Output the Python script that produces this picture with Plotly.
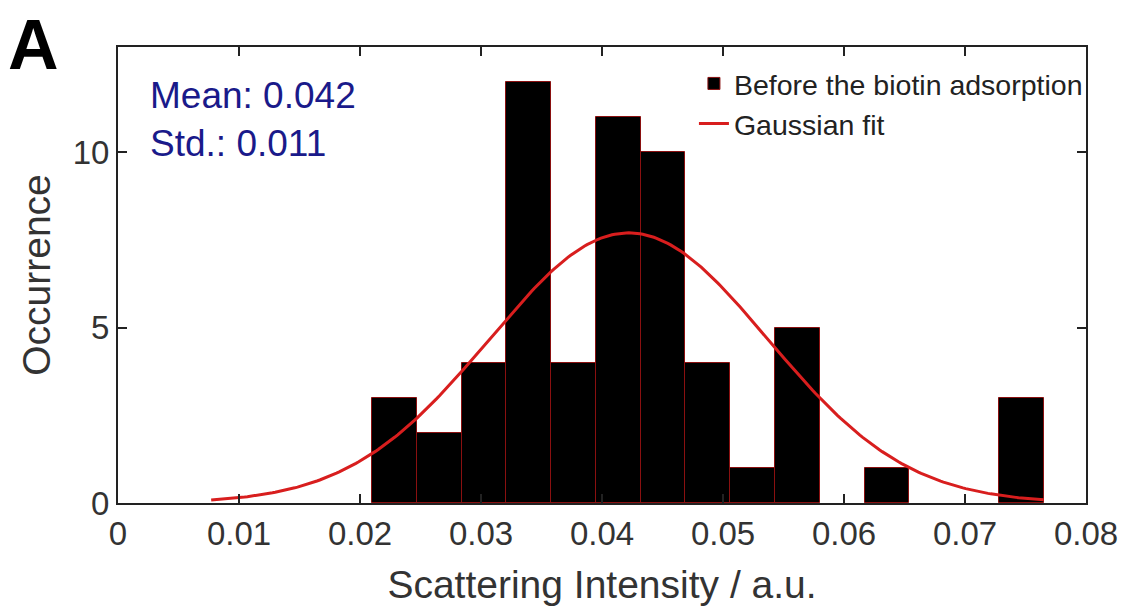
import numpy as np
import plotly.graph_objects as go

# Histogram data
bin_edges = [0.0210, 0.0247, 0.0284, 0.0321, 0.0358, 0.0395, 0.0432, 0.0469,
             0.0506, 0.0543, 0.0580, 0.0617, 0.0654, 0.0691, 0.0728, 0.0765]
counts = [3, 2, 4, 12, 4, 11, 10, 4, 1, 5, 0, 1, 0, 0, 3]

# Gaussian fit parameters (histfit-style)
fit_mean = 0.0422
fit_std = 0.0115
fit_x_start = 0.0077
fit_x_end = 0.0765

x_ticks = [0, 0.01, 0.02, 0.03, 0.04, 0.05, 0.06, 0.07, 0.08]
x_tick_labels = ["0", "0.01", "0.02", "0.03", "0.04", "0.05", "0.06", "0.07", "0.08"]
y_ticks = [0, 5, 10]
y_tick_labels = ["0", "5", "10"]

stats_text = "Mean: 0.042<br>Std.: 0.011"

edges = np.array(bin_edges)
centers = (edges[:-1] + edges[1:]) / 2
widths = np.diff(edges)
n_total = sum(counts)
bw = float(np.mean(widths))
fx = np.linspace(fit_x_start, fit_x_end, 300)
fy = n_total * bw / (fit_std * np.sqrt(2 * np.pi)) * np.exp(-0.5 * ((fx - fit_mean) / fit_std) ** 2)

FONT = "Arial, 'Liberation Sans', Helvetica, sans-serif"

fig = go.Figure()
fig.add_trace(go.Bar(
    x=centers, y=counts, width=widths,
    marker=dict(color="black",
                line=dict(color="#8a1010", width=[1 if c > 0 else 0 for c in counts])),
    name="Before the biotin adsorption",
))
fig.add_trace(go.Scatter(
    x=fx, y=fy, mode="lines",
    line=dict(color="#d81e1e", width=3),
    name="Gaussian fit",
))

axis_common = dict(
    showline=True, linecolor="#222222", linewidth=2, mirror="ticks",
    ticks="inside", ticklen=9, tickwidth=2, tickcolor="#222222",
    showgrid=False, zeroline=False,
    tickfont=dict(family=FONT, size=33, color="#333333"),
)

fig.update_layout(
    width=1130, height=611,
    margin=dict(l=118, r=41, t=47, b=104),
    plot_bgcolor="white", paper_bgcolor="white",
    bargap=0,
    font=dict(family=FONT),
    xaxis=dict(range=[0, 0.08], tickvals=x_ticks, ticktext=x_tick_labels,
               title=dict(text="Scattering Intensity / a.u.",
                          font=dict(family=FONT, size=39, color="#333333"), standoff=20),
               **axis_common),
    yaxis=dict(range=[0, 13], tickvals=y_ticks, ticktext=y_tick_labels,
               title=dict(text="Occurrence",
                          font=dict(family=FONT, size=39, color="#333333"), standoff=10),
               **axis_common),
    legend=dict(x=1.002, y=0.975, xanchor="right", yanchor="top",
                bgcolor="rgba(255,255,255,0)", borderwidth=0,
                font=dict(family=FONT, size=28.5, color="#222222"),
                tracegroupgap=0, itemwidth=30),
    showlegend=True,
)

fig.add_annotation(
    text=stats_text, xref="paper", yref="paper",
    x=0.031, y=0.842, xanchor="left", yanchor="middle", align="left",
    showarrow=False, font=dict(family=FONT, size=37, color="#1a1a8a"),
)
fig.add_annotation(
    text="<b>A</b>", xref="paper", yref="paper",
    x=-0.0875, y=1.095, xanchor="center", yanchor="top",
    showarrow=False, font=dict(family=FONT, size=70, color="black"),
)

fig.write_html("out.html", config={"displayModeBar": False},
               post_script="document.body.style.margin='0px';")
